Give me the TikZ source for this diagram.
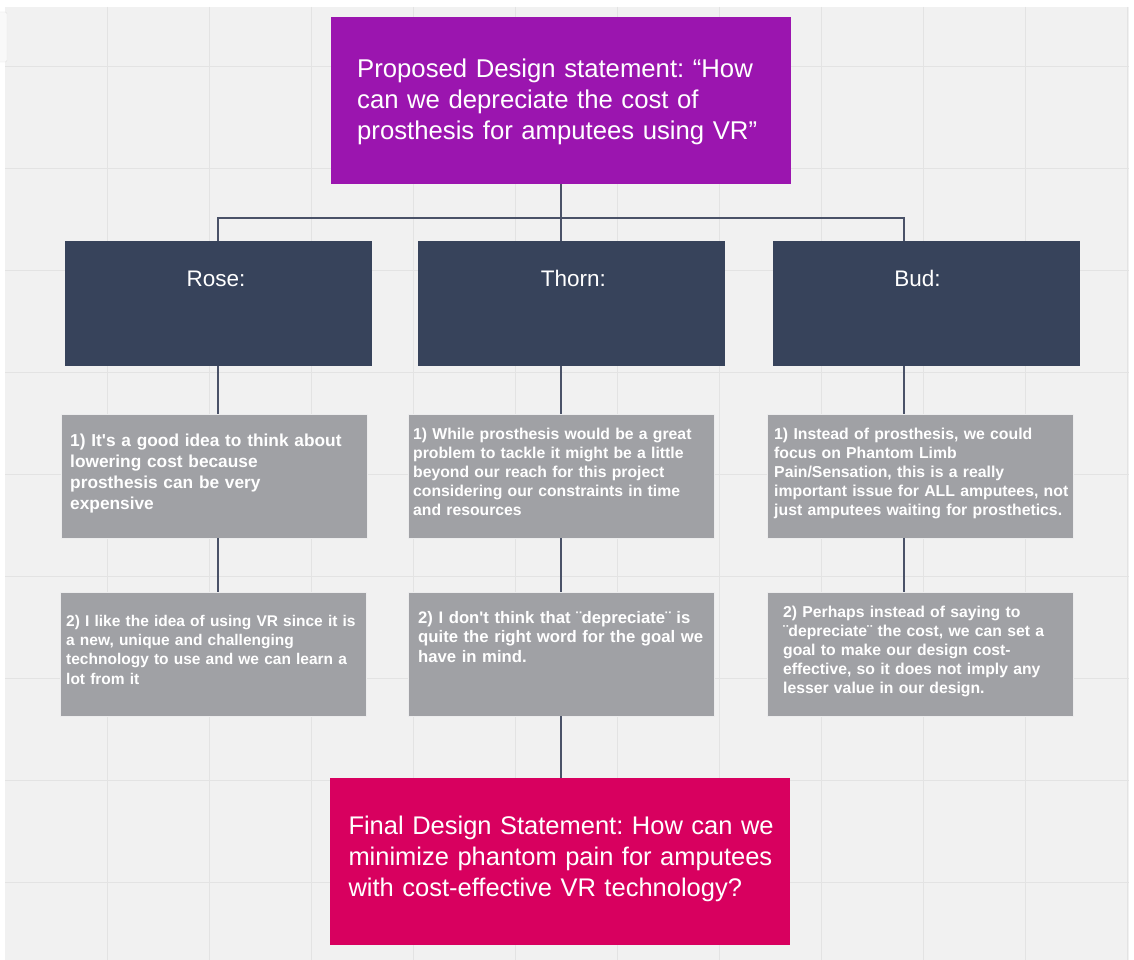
\documentclass[tikz,border=0pt]{standalone}
\usepackage{fontspec}
\setmainfont{Liberation Sans}[Ligatures=TeXOff]
\frenchspacing
\definecolor{bgc}{RGB}{241,241,241}
\definecolor{gridc}{RGB}{227,227,227}
\definecolor{purplec}{RGB}{155,21,175}
\definecolor{darkc}{RGB}{55,67,91}
\definecolor{greyc}{RGB}{160,161,165}
\definecolor{pinkc}{RGB}{216,0,95}
\definecolor{connc}{RGB}{74,82,104}
\tikzset{
  boxbase/.style={rectangle, inner sep=0pt, outer sep=0pt},
  purplebox/.style={boxbase, fill=purplec, minimum width=460pt, minimum height=167pt},
  pinkbox/.style={boxbase, fill=pinkc, minimum width=460pt, minimum height=167pt},
  darkbox/.style={boxbase, fill=darkc, minimum width=307pt, minimum height=125pt},
  greybox/.style={boxbase, fill=greyc, draw=white!80!greyc, line width=0.8pt, minimum width=306pt, minimum height=124pt},
  conn/.style={draw=connc, line width=1.2pt},
  bigtxt/.style={anchor=base west, inner sep=0pt, text=white, align=left, text width=440pt, font=\fontsize{25.7}{30.8}\selectfont},
  labtxt/.style={anchor=base, inner sep=0pt, text=white, font=\fontsize{22.5}{26}\selectfont},
  smalltxt/.style={anchor=base west, inner sep=0pt, text=white, align=left, text width=300pt},
}
\begin{document}
\begin{tikzpicture}[x=1pt,y=-1pt]
\useasboundingbox (0,0) rectangle (1134,960);
% background and grid
\fill[white] (0,0) rectangle (1134,960);
\fill[bgc] (5,7) rectangle (1129,960);
\foreach \k in {0,...,10} \draw[gridc, line width=1pt] (107+102*\k,7) -- (107+102*\k,960);
\foreach \k in {0,...,8} \draw[gridc, line width=1pt] (5,66.7+102*\k) -- (1129,66.7+102*\k);
\fill[rounded corners=2pt, fill=white!60!bgc, draw=gridc] (-6,12) rectangle (7,62);

% boxes
\node[purplebox] (prop) at (561,100.5) {};
\node[darkbox] (rose) at (218.5,303.5) {};
\node[darkbox] (thorn) at (571.5,303.5) {};
\node[darkbox] (bud) at (926.5,303.5) {};
\node[greybox] (r1) at (214,476) {};
\node[greybox] (t1) at (561.5,476) {};
\node[greybox] (b1) at (920,476) {};
\node[greybox] (r2) at (213.5,654) {};
\node[greybox] (t2) at (561.5,654) {};
\node[greybox] (b2) at (920,654) {};
\node[pinkbox] (final) at (560,861.5) {};

% connector columns
\coordinate (cR) at (218,0);
\coordinate (cT) at (561,0);
\coordinate (cB) at (904,0);
\coordinate (bus) at (0,218);

\draw[conn] (prop.south -| cT) -- (bus -| cT);
\draw[conn] (rose.north -| cR) |- (bus -| cB) -- (bud.north -| cB);
\draw[conn] (bus -| cT) -- (thorn.north -| cT);
\draw[conn] (rose.south -| cR) -- (r1.north -| cR);
\draw[conn] (r1.south -| cR) -- (r2.north -| cR);
\draw[conn] (thorn.south -| cT) -- (t1.north -| cT);
\draw[conn] (t1.south -| cT) -- (t2.north -| cT);
\draw[conn] (t2.south -| cT) -- (final.north -| cT);
\draw[conn] (bud.south -| cB) -- (b1.north -| cB);
\draw[conn] (b1.south -| cB) -- (b2.north -| cB);

% texts
\node[bigtxt] (propt) at (357,77.7) {Proposed Design statement: “How\\can we depreciate the cost of\\prosthesis for amputees using VR”};
\node[labtxt] (roset) at (216,286) {Rose:};
\node[labtxt] (thornt) at (573.3,286) {Thorn:};
\node[labtxt] (budt) at (917.5,286) {Bud:};

\node[smalltxt, font=\bfseries\fontsize{17.3}{21}\selectfont] (r1t) at (70,446.7)
  {1) It's a good idea to think about\\lowering cost because\\prosthesis can be very\\expensive};
\node[smalltxt, font=\bfseries\fontsize{15.75}{19}\selectfont] (t1t) at (413,439)
  {1) While prosthesis would be a great\\problem to tackle it might be a little\\beyond our reach for this project\\considering our constraints in time\\and resources};
\node[smalltxt, font=\bfseries\fontsize{15.8}{19}\selectfont] (b1t) at (774,439)
  {1) Instead of prosthesis, we could\\focus on Phantom Limb\\Pain/Sensation, this is a really\\important issue for ALL amputees, not\\just amputees waiting for prosthetics.};
\node[smalltxt, font=\bfseries\fontsize{15.5}{19.1}\selectfont] (r2t) at (66,626.7)
  {2) I like the idea of using VR since it is\\a new, unique and challenging\\technology to use and we can learn a\\lot from it};
\node[smalltxt, font=\bfseries\fontsize{16.7}{19.6}\selectfont] (t2t) at (418,623.3)
  {2) I don't think that ¨depreciate¨ is\\quite the right word for the goal we\\have in mind.};
\node[smalltxt, font=\bfseries\fontsize{15.75}{19}\selectfont] (b2t) at (783,617.3)
  {2) Perhaps instead of saying to\\¨depreciate¨ the cost, we can set a\\goal to make our design cost-\\effective, so it does not imply any\\lesser value in our design.};

\node[bigtxt, font=\fontsize{25.5}{31.2}\selectfont] (finalt) at (348.3,834.3)
  {Final Design Statement: How can we\\minimize phantom pain for amputees\\with cost-effective VR technology?};
\end{tikzpicture}
\end{document}
